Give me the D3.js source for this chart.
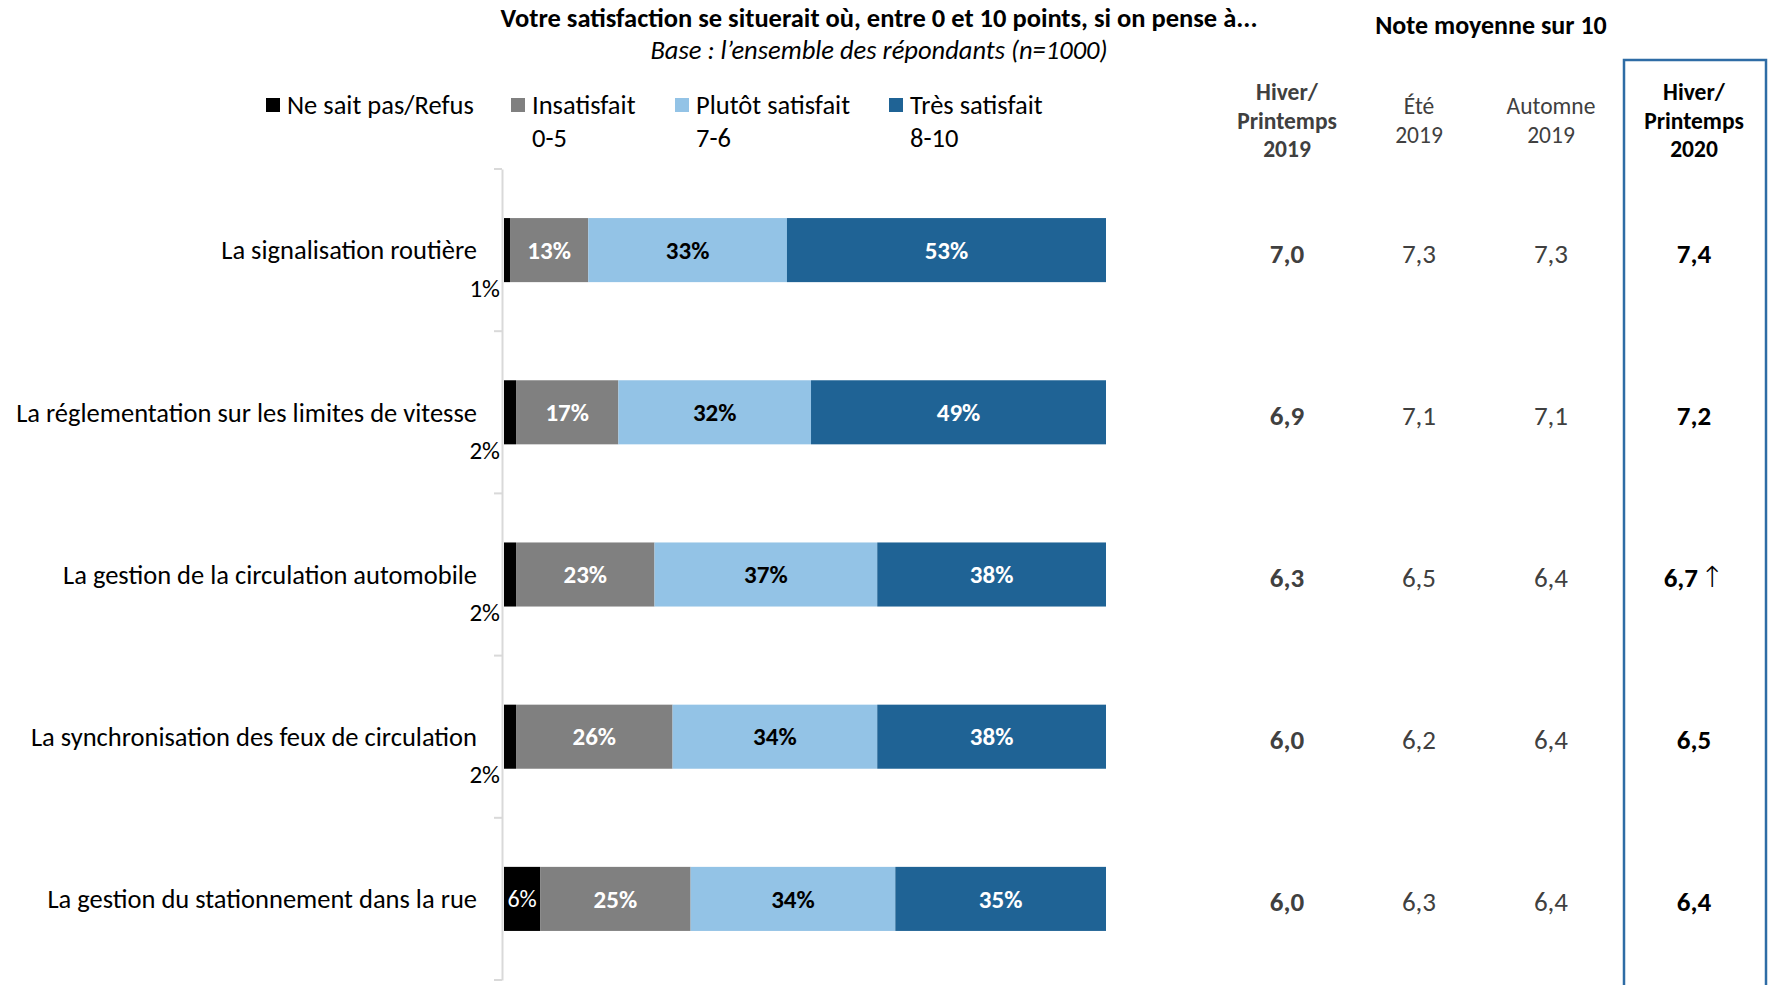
<!DOCTYPE html>
<html lang="fr">
<head>
<meta charset="utf-8">
<script src="https://cdn.jsdelivr.net/npm/d3@7/dist/d3.min.js"></script>
<style>
  html, body { margin: 0; padding: 0; background: #fff; }
  svg { display: block; font-family: Carlito, Lato, "Open Sans", sans-serif; }
</style>
</head>
<body>
<svg id="chart" width="1770" height="985"></svg>
<script>
// Survey items and their satisfaction breakdown (%)
const categories = [
  "La signalisation routière",
  "La réglementation sur les limites de vitesse",
  "La gestion de la circulation automobile",
  "La synchronisation des feux de circulation",
  "La gestion du stationnement dans la rue"
];
const nspRefus     = [1, 2, 2, 2, 6];
const insatisfait  = [13, 17, 23, 26, 25];
const plutotSatisf = [33, 32, 37, 34, 34];
const tresSatisf   = [53, 49, 38, 38, 35];

const seriesKeys   = ["nsp", "insat", "plutot", "tres"];
const seriesNames  = ["Ne sait pas/Refus", "Insatisfait", "Plutôt satisfait", "Très satisfait"];
const seriesRanges = ["", "0-5", "7-6", "8-10"];
const seriesColors = ["#000000", "#808080", "#93c3e6", "#1f6395"];
const labelColors  = ["#ffffff", "#ffffff", "#000000", "#ffffff"];

// Mean score out of 10 by survey wave
const waveHeaders = [
  ["Hiver/", "Printemps", "2019"],
  ["Été", "2019"],
  ["Automne", "2019"],
  ["Hiver/", "Printemps", "2020"]
];
const scoreHP2019 = [7.0, 6.9, 6.3, 6.0, 6.0];
const scoreE2019  = [7.3, 7.1, 6.5, 6.2, 6.3];
const scoreA2019  = [7.3, 7.1, 6.4, 6.4, 6.4];
const scoreHP2020 = [7.4, 7.2, 6.7, 6.5, 6.4];
const signif2020  = ["", "", "↑", "", ""];

const rows = categories.map((c, i) => ({
  cat: c, nsp: nspRefus[i], insat: insatisfait[i], plutot: plutotSatisf[i], tres: tresSatisf[i]
}));

const svg = d3.select("#chart");

// Scales
const x = d3.scaleLinear().domain([0, 100]).range([504, 1106]);
const y = d3.scaleBand().domain(categories).range([169, 980]).paddingInner(0.605).paddingOuter(0.3025);
const yAxisBand = d3.scaleBand().domain(categories).range([169, 980]);

const stacked = d3.stack().keys(seriesKeys)(rows);

// Titles
svg.append("text").attr("x", 879).attr("y", 27).attr("text-anchor", "middle")
  .attr("font-size", 26.5).attr("font-weight", 700).attr("fill", "#000")
  .text("Votre satisfaction se situerait où, entre 0 et 10 points, si on pense à...");
svg.append("text").attr("x", 879).attr("y", 59).attr("text-anchor", "middle")
  .attr("font-size", 26.5).attr("font-style", "italic").attr("fill", "#000")
  .text("Base : l’ensemble des répondants (n=1000)");
svg.append("text").attr("x", 1491).attr("y", 34).attr("text-anchor", "middle")
  .attr("font-size", 26).attr("font-weight", 700).attr("fill", "#000")
  .text("Note moyenne sur 10");

// Legend
const legendX = [266, 511, 675, 889];
const legend = svg.append("g").selectAll("g").data(seriesNames).join("g")
  .attr("transform", (d, i) => `translate(${legendX[i]},0)`);
legend.append("rect").attr("x", 0).attr("y", 98).attr("width", 14).attr("height", 14)
  .attr("fill", (d, i) => seriesColors[i]);
legend.append("text").attr("x", 21).attr("y", 114).attr("font-size", 26.5).attr("fill", "#000")
  .text(d => d);
legend.append("text").attr("x", 21).attr("y", 147).attr("font-size", 26.5).attr("fill", "#000")
  .text((d, i) => seriesRanges[i]);

// Category axis
const axis = d3.axisLeft(yAxisBand).tickSize(0).tickFormat("");
const axisG = svg.append("g").attr("transform", "translate(502,0)").call(axis);
axisG.select(".domain").attr("stroke", "#d9d9d9").attr("stroke-width", 2);
// boundary ticks between bands
const bounds = categories.map(c => yAxisBand(c)).concat([yAxisBand.range()[1]]);
axisG.selectAll("line.bound").data(bounds).join("line").attr("class", "bound")
  .attr("x1", -8).attr("x2", 0).attr("y1", d => d).attr("y2", d => d)
  .attr("stroke", "#d9d9d9").attr("stroke-width", 2);

// Category labels
svg.append("g").selectAll("text").data(categories).join("text")
  .attr("x", 477).attr("y", d => y(d) + y.bandwidth() / 2).attr("dy", "0.35em")
  .attr("text-anchor", "end").attr("font-size", 26.5).attr("fill", "#000")
  .text(d => d);

// Bars
const layers = svg.append("g").selectAll("g").data(stacked).join("g")
  .attr("fill", (d, i) => seriesColors[i]);
layers.selectAll("rect").data(d => d).join("rect")
  .attr("x", d => x(d[0])).attr("width", d => x(d[1]) - x(d[0]))
  .attr("y", d => y(d.data.cat)).attr("height", y.bandwidth());

// Segment labels
stacked.forEach((layer, li) => {
  layer.forEach(seg => {
    const v = seg[1] - seg[0];
    const cy = y(seg.data.cat) + y.bandwidth() / 2;
    if (v >= 3) {
      svg.append("text")
        .attr("x", (x(seg[0]) + x(seg[1])) / 2).attr("y", cy).attr("dy", "0.35em")
        .attr("text-anchor", "middle").attr("font-size", li === 0 ? 24 : 25)
        .attr("font-weight", li === 0 ? 400 : 700)
        .attr("fill", labelColors[li]).text(v + "%");
    } else {
      svg.append("text")
        .attr("x", 500).attr("y", cy + 38).attr("dy", "0.35em")
        .attr("text-anchor", "end").attr("font-size", 25).attr("fill", "#000")
        .text(v + "%");
    }
  });
});

// Mean score table
const colX = [1287, 1419, 1551, 1694];
const headerStyles = [
  { w: 700, c: "#404040" }, { w: 400, c: "#404040" }, { w: 400, c: "#404040" }, { w: 700, c: "#000" }
];
waveHeaders.forEach((lines, ci) => {
  const t = svg.append("text").attr("text-anchor", "middle").attr("font-size", 23.5)
    .attr("font-weight", headerStyles[ci].w).attr("fill", headerStyles[ci].c);
  const y0 = lines.length === 3 ? 100 : 114;
  lines.forEach((l, li) => {
    t.append("tspan").attr("x", colX[ci]).attr("y", y0 + li * 28.5).text(l);
  });
});

const fmt = v => d3.format(".1f")(v).replace(".", ",");
const scoreCols = [scoreHP2019, scoreE2019, scoreA2019, scoreHP2020];
scoreCols.forEach((col, ci) => {
  const cells = svg.append("g").selectAll("text").data(col).join("text")
    .attr("x", colX[ci]).attr("y", (d, i) => y(categories[i]) + y.bandwidth() / 2 + 3).attr("dy", "0.35em")
    .attr("text-anchor", "middle").attr("font-size", 27)
    .attr("font-weight", headerStyles[ci].w).attr("fill", headerStyles[ci].c);
  cells.append("tspan").text(d => fmt(d));
  // significance arrow after the latest wave's score
  if (ci === 3) {
    cells.append("tspan").attr("font-family", "DejaVu Sans").attr("font-weight", 300)
      .attr("font-size", 29).attr("dx", 2).text((d, i) => signif2020[i]);
  }
});

// Highlight frame for the latest wave
svg.append("rect").attr("x", 1624).attr("y", 60).attr("width", 142).attr("height", 940)
  .attr("fill", "none").attr("stroke", "#2e6ca5").attr("stroke-width", 2.5);
</script>
</body>
</html>
